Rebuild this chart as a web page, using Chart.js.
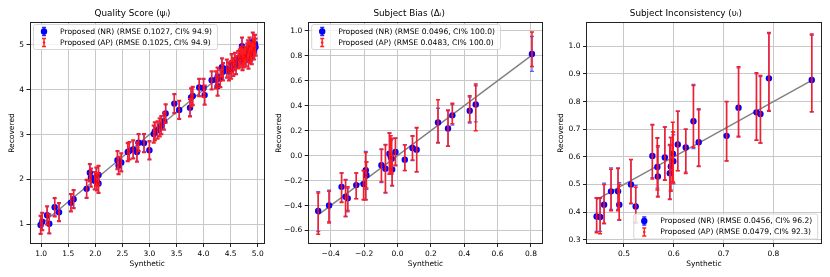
<!DOCTYPE html>
<html>
<head>
<meta charset="utf-8">
<script src="https://cdn.jsdelivr.net/npm/chart.js@4/dist/chart.umd.min.js"></script>
<style>
  html, body { margin: 0; padding: 0; background: #fff; }
  #wrap { position: relative; width: 830px; height: 277px; }
  .panel { position: absolute; top: 0; height: 277px; }
</style>
</head>
<body>
<div id="wrap">
  <div class="panel" style="left:0;width:275px"><canvas id="c1"></canvas></div>
  <div class="panel" style="left:275px;width:275px"><canvas id="c2"></canvas></div>
  <div class="panel" style="left:550px;width:280px"><canvas id="c3"></canvas></div>
</div>
<script>
// ---- Quality score (psi) ----
const qSyn = [0.99,1.02,1.11,1.15,1.25,1.33,1.55,1.60,1.84,1.90, 1.92,1.99,2.02,2.03,2.06,2.06,2.41,2.43,2.48,2.60,
  2.63,2.70,2.77,2.80,2.90,3.00,3.08,3.10,3.15,3.19, 3.22,3.27,3.30,3.46,3.55,3.75,3.77,3.80,3.92,4.00,
  4.02,4.15,4.23,4.26,4.26,4.31,4.34,4.36,4.43,4.47, 4.51,4.52,4.55,4.58,4.60,4.64,4.67,4.69,4.71,4.72,
  4.74,4.76,4.78,4.81,4.82,4.83,4.85,4.86,4.88,4.89, 4.91,4.92,4.93,4.95,4.96];
const qRec = [0.985,1.06,1.20,1.01,1.38,1.27,1.48,1.56,1.79,2.15, 2.04,1.97,2.06,1.95,2.10,1.91,2.43,2.31,2.38,2.61,
  2.64,2.67,2.61,2.82,2.81,2.65,3.01,3.07,3.10,3.16, 3.21,3.30,3.47,3.69,3.55,3.60,3.83,3.86,4.05,4.04,
  3.88,4.21,4.22,4.29,4.08,4.25,4.50,4.40,4.47,4.41, 4.44,4.59,4.51,4.63,4.55,4.67,4.70,4.75,4.97,4.64,
  4.70,4.77,4.72,4.84,4.90,4.67,4.97,4.80,4.85,4.76, 5.07,4.93,4.88,5.02,4.95];
const qNrErr = [0.19,0.18,0.19,0.20,0.19,0.19,0.18,0.19,0.19,0.18, 0.19,0.18,0.19,0.18,0.19,0.20,0.19,0.18,0.19,0.19,
  0.18,0.19,0.20,0.18,0.19,0.19,0.18,0.19,0.18,0.19, 0.19,0.18,0.19,0.20,0.19,0.18,0.19,0.19,0.18,0.19,
  0.20,0.19,0.18,0.19,0.20,0.18,0.19,0.18,0.19,0.19, 0.18,0.19,0.19,0.18,0.19,0.18,0.19,0.19,0.18,0.19,
  0.19,0.18,0.19,0.18,0.19,0.19,0.18,0.19,0.19,0.18, 0.19,0.18,0.19,0.19,0.18];
const qApErr = [0.21,0.20,0.21,0.22,0.21,0.21,0.20,0.21,0.21,0.20, 0.21,0.20,0.21,0.20,0.21,0.22,0.21,0.20,0.21,0.21,
  0.20,0.21,0.22,0.20,0.21,0.21,0.20,0.21,0.20,0.21, 0.21,0.20,0.21,0.22,0.21,0.20,0.21,0.21,0.20,0.21,
  0.22,0.21,0.20,0.21,0.22,0.20,0.21,0.20,0.21,0.21, 0.20,0.21,0.21,0.20,0.21,0.20,0.21,0.21,0.20,0.21,
  0.21,0.20,0.21,0.20,0.21,0.21,0.20,0.21,0.21,0.20, 0.21,0.20,0.21,0.21,0.20];
const qXTicks = [1.0,1.5,2.0,2.5,3.0,3.5,4.0,4.5,5.0];
const qYTicks = [1,2,3,4,5];
const qLegend = ['Proposed (NR) (RMSE 0.1027, CI% 94.9)', 'Proposed (AP) (RMSE 0.1025, CI% 94.9)'];

// ---- Subject bias (Delta) ----
const bSyn = [-0.475,-0.41,-0.335,-0.311,-0.298,-0.247,-0.203,-0.19,-0.186,-0.096,-0.072,-0.048,-0.04,
  -0.035,-0.032,-0.012,0.044,0.09,0.115,0.243,0.303,0.329,0.433,0.469,0.806];
const bRec = [-0.443,-0.40,-0.25,-0.329,-0.342,-0.236,-0.228,-0.117,-0.157,-0.077,-0.104,0.016,-0.011,
  -0.024,-0.111,0.03,-0.032,0.061,0.048,0.266,0.217,0.323,0.36,0.41,0.815];
const bNrLo = [-0.608,-0.528,-0.37,-0.49,-0.45,-0.345,-0.35,-0.35,-0.27,-0.215,-0.30,-0.14,-0.12,
  -0.15,-0.245,-0.075,-0.12,-0.04,-0.13,0.10,0.075,0.245,0.26,0.27,0.675];
const bNrHi = [-0.289,-0.276,-0.138,-0.19,-0.26,-0.138,-0.12,0.035,-0.05,0.055,0.09,0.185,0.12,
  0.13,0.0,0.143,0.088,0.154,0.22,0.38,0.36,0.41,0.47,0.56,0.955];
const bApLo = [-0.63,-0.54,-0.375,-0.485,-0.44,-0.345,-0.355,-0.355,-0.26,-0.21,-0.295,-0.15,-0.13,
  -0.14,-0.24,-0.08,-0.12,-0.035,-0.13,0.105,0.078,0.255,0.27,0.20,0.715];
const bApHi = [-0.30,-0.285,-0.14,-0.195,-0.25,-0.14,-0.12,0.025,-0.05,0.05,0.085,0.18,0.16,
  0.14,0.0,0.14,0.085,0.16,0.225,0.447,0.365,0.42,0.48,0.575,0.99];
const bXTicks = [-0.4,-0.2,0.0,0.2,0.4,0.6,0.8];
const bYTicks = [-0.6,-0.4,-0.2,0.0,0.2,0.4,0.6,0.8,1.0];
const bLegend = ['Proposed (NR) (RMSE 0.0496, CI% 100.0)', 'Proposed (AP) (RMSE 0.0483, CI% 100.0)'];

// ---- Subject inconsistency (upsilon) ----
const uSyn = [0.445,0.452,0.46,0.474,0.488,0.4905,0.514,0.5235,0.557,0.567,0.568,0.582,0.592,
  0.594,0.598,0.599,0.608,0.624,0.6395,0.65,0.706,0.730,0.766,0.774,0.791,0.877];
const uRec = [0.384,0.382,0.427,0.475,0.475,0.427,0.50,0.42,0.603,0.563,0.529,0.598,0.541,
  0.565,0.611,0.584,0.645,0.634,0.729,0.653,0.676,0.778,0.761,0.755,0.884,0.878];
const uNrLo = [0.33,0.33,0.357,0.41,0.41,0.37,0.43,0.36,0.525,0.487,0.458,0.517,0.445,
  0.48,0.51,0.502,0.55,0.545,0.63,0.567,0.585,0.675,0.66,0.65,0.768,0.763];
const uNrHi = [0.45,0.452,0.505,0.56,0.56,0.507,0.59,0.497,0.715,0.667,0.635,0.708,0.641,
  0.67,0.69,0.68,0.765,0.70,0.862,0.774,0.80,0.922,0.90,0.89,1.046,1.04];
const uApLo = [0.325,0.322,0.36,0.405,0.405,0.372,0.432,0.362,0.52,0.48,0.455,0.515,0.447,
  0.475,0.51,0.505,0.55,0.54,0.635,0.565,0.585,0.672,0.66,0.65,0.765,0.763];
const uApHi = [0.452,0.45,0.50,0.555,0.558,0.50,0.59,0.49,0.717,0.669,0.64,0.708,0.645,
  0.67,0.725,0.69,0.765,0.70,0.858,0.77,0.80,0.926,0.904,0.894,1.05,1.045];
const uXTicks = [0.5,0.6,0.7,0.8];
const uYTicks = [0.3,0.4,0.5,0.6,0.7,0.8,0.9,1.0];
const uLegend = ['Proposed (NR) (RMSE 0.0456, CI% 96.2)', 'Proposed (AP) (RMSE 0.0479, CI% 92.3)'];

const FONT = '"DejaVu Sans", "Liberation Sans", sans-serif';
Chart.defaults.font.family = FONT;
Chart.defaults.font.size = 7.5;
Chart.defaults.color = '#000';

// error bars drawn just before their own dataset, like matplotlib errorbar
const errorBars = {
  id: 'errorBars',
  beforeDatasetDraw(chart, args) {
    const ds = chart.data.datasets[args.index];
    if (!ds.errLo) return;
    const xs = chart.scales.x, ys = chart.scales.y, ctx = chart.ctx, a = chart.chartArea;
    ctx.save();
    ctx.beginPath();
    ctx.rect(a.left, a.top, a.width, a.height);
    ctx.clip();
    ctx.strokeStyle = ds.errColor;
    ctx.lineWidth = ds.errWidth;
    ds.data.forEach((p, i) => {
      const x = xs.getPixelForValue(p.x);
      const y1 = ys.getPixelForValue(ds.errLo[i]);
      const y2 = ys.getPixelForValue(ds.errHi[i]);
      ctx.beginPath();
      ctx.moveTo(x, y1); ctx.lineTo(x, y2);
      ctx.moveTo(x - 2, y1); ctx.lineTo(x + 2, y1);
      ctx.moveTo(x - 2, y2); ctx.lineTo(x + 2, y2);
      ctx.stroke();
    });
    ctx.restore();
  }
};

// spines + legend box inside the axes
const boxLegend = {
  id: 'boxLegend',
  afterDatasetsDraw(chart, args, opts) {
    const ctx = chart.ctx, a = chart.chartArea;
    ctx.save();
    ctx.strokeStyle = '#222';
    ctx.lineWidth = 1;
    ctx.strokeRect(Math.round(a.left) + 0.5, Math.round(a.top) + 0.5,
      Math.round(a.right) - Math.round(a.left) - 1, Math.round(a.bottom) - Math.round(a.top) - 1);

    ctx.font = '7.6px ' + FONT;
    const labels = opts.labels;
    const tw = Math.max(...labels.map(t => ctx.measureText(t).width));
    const w = tw + 32, h = 25;
    const x0 = opts.corner === 'tl' ? a.left + 3.5 : a.right - 4.5 - w;
    const y0 = opts.corner === 'tl' ? a.top + 2 : a.bottom - 5.5 - h;
    ctx.beginPath();
    ctx.roundRect(x0 + 0.5, y0 + 0.5, w, h, 2);
    ctx.fillStyle = 'rgba(255,255,255,0.8)';
    ctx.fill();
    ctx.strokeStyle = '#d6d6d6';
    ctx.stroke();

    const styles = [
      { c: 'rgba(0,0,255,0.85)', dot: '#0000ff', r: 3.2 },
      { c: '#ff2020', dot: '#ff2020', r: 1.3 }
    ];
    labels.forEach((t, i) => {
      const cy = y0 + 7.5 + i * 11;
      const mx = x0 + 11;
      const s = styles[i];
      ctx.strokeStyle = s.c;
      ctx.lineWidth = 1.4;
      ctx.beginPath();
      ctx.moveTo(mx, cy - 4); ctx.lineTo(mx, cy + 4);
      ctx.moveTo(mx - 2, cy - 4); ctx.lineTo(mx + 2, cy - 4);
      ctx.moveTo(mx - 2, cy + 4); ctx.lineTo(mx + 2, cy + 4);
      ctx.stroke();
      ctx.fillStyle = s.dot;
      ctx.beginPath(); ctx.arc(mx, cy, s.r, 0, Math.PI * 2); ctx.fill();
      ctx.fillStyle = '#000';
      ctx.textBaseline = 'middle';
      ctx.fillText(t, x0 + 27, cy + 0.5);
    });
    ctx.restore();
  }
};

function fmt(v, dec) {
  if (Math.abs(v) < 1e-9) v = 0;
  return v.toFixed(dec).replace('-', '\u2212');
}

function makePanel(id, p) {
  const diag = [Math.min(...p.syn), Math.max(...p.syn)];
  const grid = { color: '#c8c8c8', lineWidth: 1, tickColor: '#222', tickLength: 3 };
  new Chart(document.getElementById(id), {
    type: 'scatter',
    data: {
      datasets: [
        { type: 'line', data: diag.map(v => ({ x: v, y: v })), borderColor: '#808080', borderWidth: 1.4,
          pointRadius: 0, order: 3 },
        { label: p.legend[0], data: p.syn.map((x, i) => ({ x, y: p.rec[i] })), errLo: p.nrLo, errHi: p.nrHi,
          errColor: 'rgba(40,40,255,0.75)', errWidth: 1.3, pointRadius: 3.2, backgroundColor: '#0000ff',
          borderWidth: 0, order: 2 },
        { label: p.legend[1], data: p.syn.map((x, i) => ({ x, y: p.rec[i] })), errLo: p.apLo, errHi: p.apHi,
          errColor: '#ff1c1c', errWidth: 1.5, pointRadius: 1.2, backgroundColor: 'rgba(255,0,0,0.85)',
          borderWidth: 0, order: 1 }
      ]
    },
    options: {
      responsive: true,
      maintainAspectRatio: false,
      animation: false,
      events: [],
      layout: { padding: { left: 0, top: 0, bottom: 0, right: p.rightPad } },
      plugins: {
        legend: { display: false },
        tooltip: { enabled: false },
        title: { display: true, text: p.title, font: { size: 8.8, weight: 'normal', lineHeight: 1.2 },
          padding: { top: 8, bottom: 3.44 } },
        boxLegend: { labels: p.legend, corner: p.corner }
      },
      scales: {
        x: {
          type: 'linear', min: p.xr[0], max: p.xr[1], grid,
          border: { display: false },
          afterBuildTicks: s => { s.ticks = p.xTicks.map(v => ({ value: v })); },
          afterFit: s => { s.height = 33; },
          ticks: { autoSkip: false, maxRotation: 0, padding: 2.5, callback: v => fmt(v, p.xDec) },
          title: { display: true, text: 'Synthetic', font: { size: 7.5, lineHeight: 1 }, padding: { top: 9.3, bottom: 9.3 } }
        },
        y: {
          type: 'linear', min: p.yr[0], max: p.yr[1], grid,
          border: { display: false },
          afterBuildTicks: s => { s.ticks = p.yTicks.map(v => ({ value: v })); },
          afterFit: s => { s.width = p.yWidth; },
          ticks: { autoSkip: false, padding: 2.5, callback: v => fmt(v, p.yDec) },
          title: { display: true, text: 'Recovered', font: { size: 7.5, lineHeight: 1 },
            padding: { top: p.yTitlePad, bottom: p.yTitlePad } }
        }
      }
    },
    plugins: [errorBars, boxLegend]
  });
}

makePanel('c1', {
  title: 'Quality Score (\u03c8\u1d62)', syn: qSyn, rec: qRec,
  nrLo: qRec.map((y, i) => y - qNrErr[i]), nrHi: qRec.map((y, i) => y + qNrErr[i]),
  apLo: qRec.map((y, i) => y - qApErr[i]), apHi: qRec.map((y, i) => y + qApErr[i]),
  xTicks: qXTicks, yTicks: qYTicks, xDec: 1, yDec: 0, legend: qLegend, corner: 'tl',
  xr: [0.785, 5.135], yr: [0.56, 5.51], yWidth: 29.5, rightPad: 10, yTitlePad: 7.8
});
makePanel('c2', {
  title: 'Subject Bias (\u0394\u1d62)', syn: bSyn, rec: bRec,
  nrLo: bNrLo, nrHi: bNrHi, apLo: bApLo, apHi: bApHi,
  xTicks: bXTicks, yTicks: bYTicks, xDec: 1, yDec: 1, legend: bLegend, corner: 'tl',
  xr: [-0.538, 0.874], yr: [-0.708, 1.071], yWidth: 32.7, rightPad: 6.7, yTitlePad: 0
});
makePanel('c3', {
  title: 'Subject Inconsistency (\u03c5\u1d62)', syn: uSyn, rec: uRec,
  nrLo: uNrLo, nrHi: uNrHi, apLo: uApLo, apHi: uApHi,
  xTicks: uXTicks, yTicks: uYTicks, xDec: 1, yDec: 1, legend: uLegend, corner: 'br',
  xr: [0.4237, 0.897], yr: [0.2845, 1.088], yWidth: 36, rightPad: 8.3, yTitlePad: 7.3
});
</script>
</body>
</html>
